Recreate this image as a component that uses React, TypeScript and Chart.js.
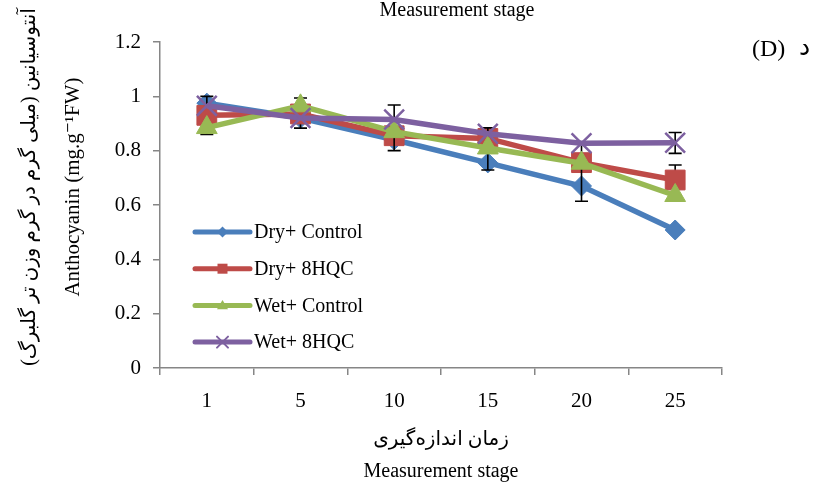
import React, { useEffect, useRef } from "react";
import { Chart, registerables } from "chart.js";

Chart.register(...registerables);

// ---------- data ----------
const stages = ["1", "5", "10", "15", "20", "25"];
const seriesLabels = ["Dry+ Control", "Dry+ 8HQC", "Wet+ Control", "Wet+ 8HQC"];
const dryControl = [0.975, 0.92, 0.84, 0.755, 0.67, 0.508];
const dry8HQC = [0.93, 0.935, 0.855, 0.845, 0.756, 0.692];
const wetControl = [0.885, 0.965, 0.87, 0.81, 0.754, 0.635];
const wet8HQC = [0.965, 0.92, 0.915, 0.862, 0.827, 0.829];
// error bar limits (null = no bar)
const errLowDryControl = [null, null, null, null, null, null];
const errHighDryControl = [null, null, null, null, null, null];
const errLowDry8HQC = [0.86, 0.883, null, null, null, 0.637];
const errHighDry8HQC = [1.0, 0.994, null, null, null, 0.747];
const errLowWetControl = [null, null, 0.8, 0.729, 0.614, null];
const errHighWetControl = [null, null, 0.968, 0.884, 0.833, null];
const errLowWet8HQC = [null, null, null, null, null, 0.79];
const errHighWet8HQC = [null, null, null, null, null, 0.867];
const yTickValues = [0, 0.2, 0.4, 0.6, 0.8, 1, 1.2];
const yTickLabels = ["0", "0.2", "0.4", "0.6", "0.8", "1", "1.2"];

const yTitleFa = "آنتوسیانین (میلی گرم در گرم وزن تر گلبرگ)";
const yTitleEn = "Anthocyanin (mg.g\u207B\u00B9FW)";
const xTitleFa = "زمان اندازه‌گیری";
const xTitleEn = "Measurement stage";
const topText = "Measurement stage";
const panelLatin = "(D)";
const panelFa = "د";

const FONT = "'Liberation Serif', 'Times New Roman', 'DejaVu Sans', serif";
const AXIS = "#868686";
const COLORS = ["#4A7EBB", "#BE4B48", "#98B954", "#7D60A0"];

const errorBarPlugin = {
  id: "errorBars",
  beforeDatasetDraw(chart: any, args: any) {
    const ds = chart.data.datasets[args.index];
    const lows: (number | null)[] = ds.errLow || [];
    const highs: (number | null)[] = ds.errHigh || [];
    const yScale = chart.scales.y;
    const ctx = chart.ctx;
    ctx.save();
    ctx.strokeStyle = "#000";
    ctx.lineWidth = 1.6;
    args.meta.data.forEach((pt: any, j: number) => {
      const lo = lows[j];
      const hi = highs[j];
      if (lo == null || hi == null) return;
      const x = pt.x;
      const yt = yScale.getPixelForValue(hi);
      const yb = yScale.getPixelForValue(lo);
      ctx.beginPath();
      ctx.moveTo(x, yt);
      ctx.lineTo(x, yb);
      ctx.moveTo(x - 6.5, yt);
      ctx.lineTo(x + 6.5, yt);
      ctx.moveTo(x - 6.5, yb);
      ctx.lineTo(x + 6.5, yb);
      ctx.stroke();
    });
    ctx.restore();
  },
};

function drawMarker(ctx: CanvasRenderingContext2D, style: string, x: number, y: number, r: number, color: string) {
  ctx.save();
  ctx.fillStyle = color;
  ctx.strokeStyle = color;
  ctx.beginPath();
  if (style === "rectRot") {
    ctx.moveTo(x, y - r);
    ctx.lineTo(x + r, y);
    ctx.lineTo(x, y + r);
    ctx.lineTo(x - r, y);
    ctx.closePath();
    ctx.fill();
  } else if (style === "rect") {
    ctx.rect(x - r, y - r, 2 * r, 2 * r);
    ctx.fill();
  } else if (style === "triangle") {
    ctx.moveTo(x, y - r);
    ctx.lineTo(x + r, y + r * 0.7);
    ctx.lineTo(x - r, y + r * 0.7);
    ctx.closePath();
    ctx.fill();
  } else {
    ctx.lineWidth = 2;
    ctx.moveTo(x - r, y - r);
    ctx.lineTo(x + r, y + r);
    ctx.moveTo(x + r, y - r);
    ctx.lineTo(x - r, y + r);
    ctx.stroke();
  }
  ctx.restore();
}

const legendPlugin = {
  id: "insideLegend",
  afterDraw(chart: any) {
    const ctx = chart.ctx;
    const area = chart.chartArea;
    const x0 = area.left + 35;
    const lineLen = 55;
    const rowTop = area.top + 190;
    const rowGap = 36.7;
    ctx.save();
    chart.data.datasets.forEach((ds: any, i: number) => {
      const y = rowTop + i * rowGap;
      ctx.strokeStyle = ds.borderColor;
      ctx.lineWidth = 5;
      ctx.lineCap = "round";
      ctx.beginPath();
      ctx.moveTo(x0, y);
      ctx.lineTo(x0 + lineLen, y);
      ctx.stroke();
      drawMarker(ctx, ds.pointStyle, x0 + lineLen / 2, y, ds.pointStyle === "rect" ? 5 : 5.5, ds.borderColor);
      ctx.fillStyle = "#000";
      ctx.font = `20px ${FONT}`;
      ctx.textAlign = "left";
      ctx.textBaseline = "middle";
      ctx.fillText(ds.label, x0 + lineLen + 4, y + 1);
    });
    ctx.restore();
  },
};

const textPlugin = {
  id: "extraText",
  afterDraw(chart: any) {
    const ctx = chart.ctx;
    const area = chart.chartArea;
    ctx.save();
    (ctx as any).direction = "ltr";
    ctx.fillStyle = "#000";
    ctx.font = `20px ${FONT}`;
    ctx.textBaseline = "middle";
    ctx.textAlign = "center";
    ctx.fillText(topText, 457, 11);
    // panel label
    ctx.textAlign = "left";
    ctx.font = `24px ${FONT}`;
    ctx.fillText(panelLatin, 752, 50);
    ctx.font = `25px ${FONT}`;
    ctx.fillText(panelFa, 799, 48);
    // y axis title (two lines, rotated)
    const cy = (area.top + area.bottom) / 2 - 18;
    ctx.font = `20px ${FONT}`;
    ctx.textAlign = "center";
    ctx.translate(30, cy);
    ctx.rotate(-Math.PI / 2);
    ctx.fillText(yTitleFa, 0, 0);
    ctx.font = `21px ${FONT}`;
    ctx.fillText(yTitleEn, 0, 43);
    ctx.restore();
  },
};

export default function App() {
  const ref = useRef<HTMLCanvasElement>(null);
  useEffect(() => {
    if (!ref.current) return;
    const mk = (label: string, data: number[], errLow: any[], errHigh: any[], color: string, style: string, radius: number, order: number) => ({
      label,
      data,
      errLow,
      errHigh,
      borderColor: color,
      backgroundColor: color,
      pointBackgroundColor: color,
      pointBorderColor: color,
      pointBorderWidth: style === "crossRot" ? 2.5 : 1,
      pointStyle: style,
      pointRadius: radius,
      borderWidth: 5.5,
      tension: 0,
      fill: false,
      order,
    });
    const chart = new Chart(ref.current, {
      type: "line",
      data: {
        labels: stages,
        datasets: [
          mk(seriesLabels[0], dryControl, errLowDryControl, errHighDryControl, COLORS[0], "rectRot", 10, 4),
          mk(seriesLabels[1], dry8HQC, errLowDry8HQC, errHighDry8HQC, COLORS[1], "rect", 14, 3),
          mk(seriesLabels[2], wetControl, errLowWetControl, errHighWetControl, COLORS[2], "triangle", 12, 2),
          mk(seriesLabels[3], wet8HQC, errLowWet8HQC, errHighWet8HQC, COLORS[3], "crossRot", 14, 1),
        ] as any,
      },
      options: {
        responsive: false,
        devicePixelRatio: 1,
        animation: false,
        layout: { padding: { top: 42, right: 101, left: 0, bottom: 0 } },
        plugins: {
          legend: { display: false },
          tooltip: { enabled: false },
          title: { display: false },
        },
        scales: {
          x: {
            type: "category",
            offset: true,
            grid: { display: true, drawOnChartArea: false, offset: true, tickLength: 7, color: AXIS, lineWidth: 1.5 },
            border: { color: AXIS, width: 1.5 },
            ticks: { color: "#000", font: { family: FONT, size: 21 }, padding: 14, maxRotation: 0 },
            title: {
              display: true,
              text: [xTitleFa, xTitleEn],
              color: "#000",
              font: { family: FONT, size: 20, lineHeight: 1.6 },
              padding: { top: 0, bottom: 1 },
            },
            afterFit(scale: any) {
              scale.height = 121;
            },
          },
          y: {
            min: 0,
            max: 1.2,
            grid: { display: true, drawOnChartArea: false, tickLength: 7, color: AXIS, lineWidth: 1.5 },
            border: { color: AXIS, width: 1.5 },
            afterBuildTicks(scale: any) {
              scale.ticks = yTickValues.map((v) => ({ value: v }));
            },
            ticks: {
              color: "#000",
              font: { family: FONT, size: 21 },
              padding: 12,
              callback: (v: any) => {
                const i = yTickValues.indexOf(Number(v));
                return i >= 0 ? yTickLabels[i] : "";
              },
            },
            title: { display: false },
            afterFit(scale: any) {
              scale.width = 160;
            },
          },
        },
      } as any,
      plugins: [errorBarPlugin, legendPlugin, textPlugin],
    });
    return () => chart.destroy();
  }, []);
  return (
    <div style={{ position: "fixed", left: 0, top: 0, width: 823, height: 489, background: "#fff" }}>
      <canvas ref={ref} width={823} height={489} style={{ display: "block", width: 823, height: 489 }} />
    </div>
  );
}
